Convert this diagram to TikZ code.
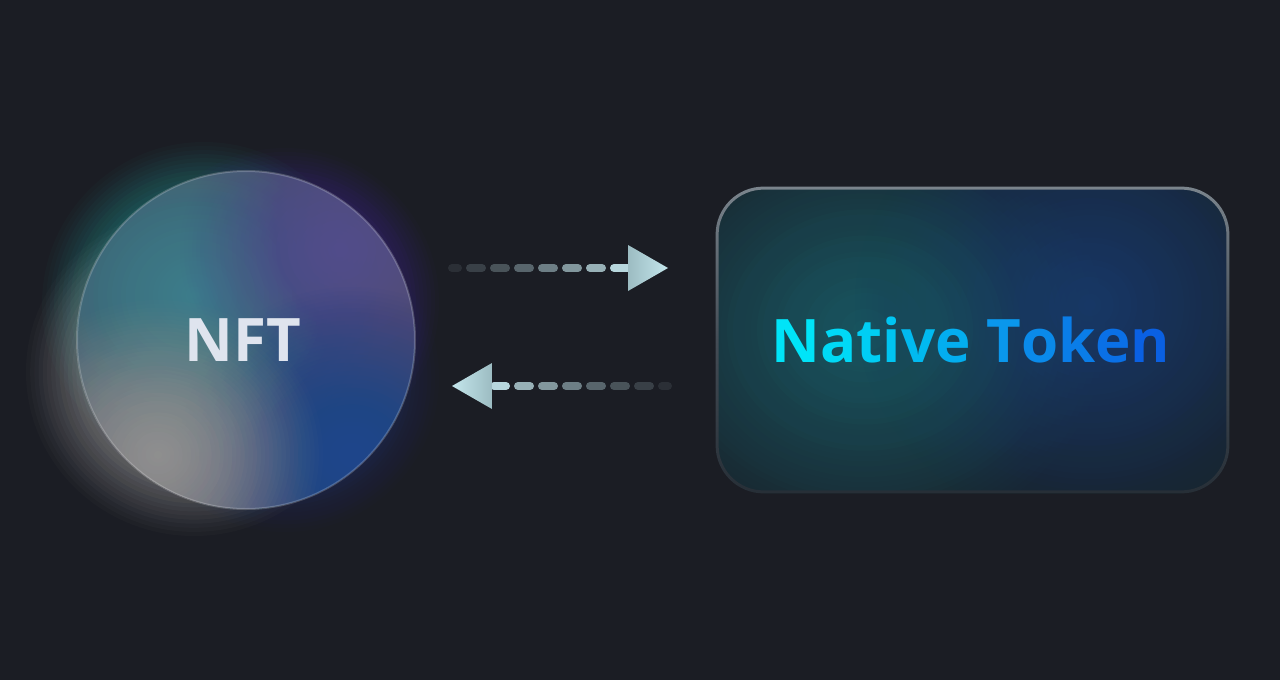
\documentclass[tikz,border=0pt]{standalone}
\usepackage{fontspec}
\setmainfont{Open Sans}
\usetikzlibrary{calc}
\definecolor{bg}{HTML}{1B1D24}
\definecolor{nfttext}{HTML}{DFE4EE}
\definecolor{cteal}{HTML}{3C8C99}
\definecolor{cpurple}{HTML}{5E4C9A}
\definecolor{cblue}{HTML}{1E4598}
\definecolor{cgray}{HTML}{A3A2A0}
\definecolor{cbase}{HTML}{515669}
\definecolor{gteal}{HTML}{1EA09C}
\definecolor{gpurple}{HTML}{4B32B0}
\definecolor{gwhite}{HTML}{B4B4B4}
\definecolor{gblue}{HTML}{2246A8}
\definecolor{rbase}{HTML}{18262F}
\definecolor{rteal}{HTML}{196873}
\definecolor{rblue}{HTML}{17497E}
\definecolor{rborder}{HTML}{8A949C}
\definecolor{bdmid}{HTML}{444C55}
\definecolor{bdbot}{HTML}{1B232B}
\definecolor{alight}{HTML}{C4E6EC}
\definecolor{ahead}{HTML}{9CBCC2}
\definecolor{adark}{HTML}{262930}
\pgfdeclareverticalshading{bordershade}{100bp}{color(0bp)=(bdbot); color(15bp)=(bdbot); color(50bp)=(bdmid); color(82bp)=(rborder); color(100bp)=(rborder)}
% soft glow made of stacked translucent ellipses (outer layers fainter)
\newcommand\softglow[6]{%
  \foreach \k in {1,...,40}{%
    \pgfmathsetmacro\al{#6*(52-\k)/32}%
    \fill[#1, fill opacity=\al] (#2,#3) ellipse ({#4*\k/40} and {#5*\k/40});%
  }}
\tikzset{
  dashseg/.style={line width=4pt, line cap=round},
  nftlabel/.style={font=\bfseries\fontsize{30}{34}\selectfont, text=nfttext},
  toklabel/.style={font=\bfseries\fontsize{30}{34}\selectfont},
}
\begin{document}
\begin{tikzpicture}[x=0.5pt,y=0.5pt]
\useasboundingbox (0,0) rectangle (1280,-680);
\fill[bg] (0,0) rectangle (1280,-680);

% ---- NFT circle halo (outside) ----
\softglow{gteal}{204}{-304}{162}{162}{0.08}
\softglow{gpurple}{285}{-302}{154}{154}{0.075}
\softglow{gwhite}{194}{-372}{168}{164}{0.075}
\softglow{gblue}{285}{-378}{154}{154}{0.05}

% ---- NFT circle body ----
\fill[cbase] (246,-340) circle (169);
\begin{scope}
  \clip (246,-340) circle (169);
  \softglow{cteal}{195}{-295}{185}{170}{0.06}
  \softglow{cpurple}{340}{-250}{160}{150}{0.055}
  \softglow{cblue}{352}{-455}{178}{168}{0.065}
  \softglow{cgray}{158}{-455}{165}{155}{0.055}
\end{scope}

% ---- Native token box ----
\fill[rbase, rounded corners=24pt] (716,-187) rectangle (1229,-493);
\begin{scope}
  \clip[rounded corners=24pt] (716,-187) rectangle (1229,-493);
  \softglow{rteal}{865}{-330}{240}{210}{0.05}
  \softglow{rblue}{1090}{-305}{235}{225}{0.045}
\end{scope}

% ---- nodes ----
\node[circle, minimum size=169pt, draw=white, draw opacity=0.2, line width=1pt, inner sep=0pt] (nft) at (246,-340) {};
\node[nftlabel] (nftl) at (243,-340) {NFT};
\node[rectangle, minimum width=256.5pt, minimum height=153pt, inner sep=0pt] (tok) at (972.5,-340) {};
\shade[shading=bordershade, even odd rule]
  [rounded corners=24pt] (tok.south west) rectangle (tok.north east)
  [rounded corners=22.5pt] ($(tok.south west)+(3,3)$) rectangle ($(tok.north east)+(-3,-3)$);
\node[toklabel] (tokl) at (971,-340) {\textcolor[HTML]{00E4F8}{N}\textcolor[HTML]{00D9F6}{a}\textcolor[HTML]{00CEF4}{t}\textcolor[HTML]{00C5F2}{i}\textcolor[HTML]{01BAF0}{v}\textcolor[HTML]{03AEEF}{e} \textcolor[HTML]{0A97EC}{T}\textcolor[HTML]{0A8AEA}{o}\textcolor[HTML]{0A7DE8}{k}\textcolor[HTML]{0A70E6}{e}\textcolor[HTML]{0A60E2}{n}};

% ---- arrows ----
\coordinate (t0) at (448,-268);
\coordinate (t1) at (668,-268);
\coordinate (b0) at (672,-386);
\coordinate (b1) at (452,-386);

% top arrow: dashes from t0 toward t1
\foreach \a/\b/\p in {4/10/3, 22/34/12, 46/58/22, 70/82/32, 94/106/45, 118/130/58, 142/154/72, 166/182/92}{
  \colorlet{dc}{alight!\p!adark}
  \draw[dashseg, dc] ($(t0)+(\a,0)$) -- ($(t0)+(\b,0)$);
}
\shade[left color=ahead, right color=alight] ($(t1)+(-40,23)$) -- (t1) -- ($(t1)+(-40,-23)$) -- cycle;

% bottom arrow: dashes from b0 toward b1
\foreach \a/\b/\p in {4/10/3, 22/34/12, 46/58/22, 70/82/32, 94/106/45, 118/130/58, 142/154/72, 166/178/92}{
  \colorlet{dc}{alight!\p!adark}
  \draw[dashseg, dc] ($(b0)+(-\a,0)$) -- ($(b0)+(-\b,0)$);
}
\shade[right color=ahead, left color=alight] ($(b1)+(40,23)$) -- (b1) -- ($(b1)+(40,-23)$) -- cycle;
\end{tikzpicture}
\end{document}
